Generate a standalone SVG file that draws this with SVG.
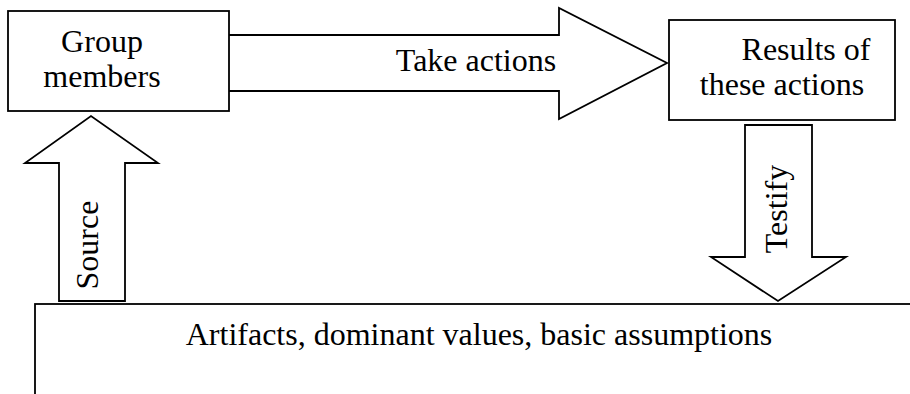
<svg xmlns="http://www.w3.org/2000/svg" width="910" height="394" viewBox="0 0 910 394">
<style>
.s{fill:#fff;stroke:#000;stroke-width:1.8;stroke-linejoin:miter}
.t{font-family:"Liberation Serif","Times New Roman",serif;font-size:32px;fill:#000;text-anchor:middle}
</style>
<rect width="910" height="394" fill="#fff"/>
<g id="connectors">
<path class="s" d="M229,35 L559,35 L559,8 L667,63 L559,119 L559,91 L229,91"/>
<path class="s" d="M59,301 L59,163 L25,163 L91,116 L158,163 L125,163 L125,301 Z"/>
<path class="s" d="M745,125 L812,125 L812,257 L846,257 L778,301 L711,257 L745,257 Z"/>
<text class="t" x="476" y="71">Take actions</text>
<text class="t" transform="translate(98,245) rotate(-90)">Source</text>
<text class="t" transform="translate(787,209) rotate(-90)">Testify</text>
</g>
<g id="group-members">
<rect class="s" x="8" y="11" width="221" height="100"/>
<text class="t" x="102" y="52">Group</text>
<text class="t" x="102" y="87">members</text>
</g>
<g id="results">
<rect class="s" x="669" y="20" width="226" height="100"/>
<text class="t" x="806" y="60">Results of</text>
<text class="t" x="782" y="95">these actions</text>
</g>
<g id="foundation">
<rect class="s" x="35" y="304" width="900" height="120"/>
<text class="t" x="479" y="345">Artifacts, dominant values, basic assumptions</text>
</g>
</svg>
